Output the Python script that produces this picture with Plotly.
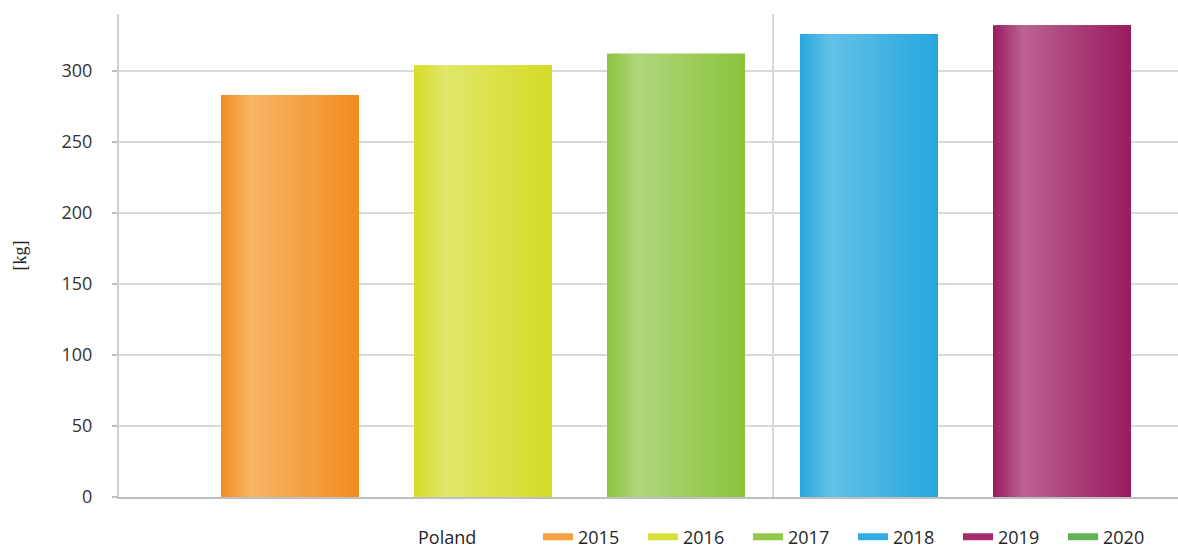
import plotly.graph_objects as go

# Annual values per year for Poland, in kg
country = "Poland"
years = ["2015", "2016", "2017", "2018", "2019", "2020"]
values = [283, 304, 312, 326, 332, None]

# Bar gradient end colours (edge shade, highlight shade) and legend swatch colours
edge_colors = ["#F18D1E", "#D4DC25", "#8BC33C", "#26A6DE", "#9A1A5E", "#5AAE4B"]
light_colors = ["#F7B567", "#E0E76B", "#AFD67B", "#63C1E8", "#BB6391", "#8CCB7E"]
legend_colors = ["#F5A043", "#D8E03A", "#93C84A", "#31ADE2", "#A52C6C", "#62B257"]

y_ticks = [0, 50, 100, 150, 200, 250, 300]

# ---- layout geometry (pixels) ----
W, H = 1178, 549
M_L, M_T, M_B, M_R = 119, 14, 52, 0
GROUP_CENTER_PX = 772.5      # centre of the single category
SLOT_PX = 193.0              # distance between neighbouring bars
UNIT_PX = SLOT_PX * len(years)
SLOT = 1.0 / len(years)
BAR_W = SLOT * 0.715
N_STRIPES = 46


def hex_to_rgb(h):
    h = h.lstrip("#")
    return tuple(int(h[i:i + 2], 16) for i in (0, 2, 4))


def mix(c1, c2, t):
    a, b = hex_to_rgb(c1), hex_to_rgb(c2)
    return "rgb(%d,%d,%d)" % tuple(round(a[i] + (b[i] - a[i]) * t) for i in range(3))


def shine(u):
    # horizontal highlight profile across a bar (0 = edge shade, 1 = brightest)
    if u < 0.22:
        return u / 0.22
    if u < 0.6:
        return 1.0 - 0.5 * (u - 0.22) / 0.38
    return 0.5 * (1.0 - (u - 0.6) / 0.4)


fig = go.Figure()

for i, (yr, v) in enumerate(zip(years, values)):
    if v is None:
        continue
    left = (i - (len(years) - 1) / 2) * SLOT - BAR_W / 2
    right = left + BAR_W
    step = BAR_W / N_STRIPES
    offsets, widths, cols = [], [], []
    for k in range(N_STRIPES):
        start = left + k * step
        offsets.append(start)
        widths.append(min(step * 2.5, right - start))
        cols.append(mix(edge_colors[i], light_colors[i], shine((k + 0.5) / N_STRIPES)))
    fig.add_trace(go.Bar(
        x=[country] * N_STRIPES,
        y=[v] * N_STRIPES,
        offset=offsets,
        width=widths,
        marker=dict(color=cols, line=dict(width=0)),
        showlegend=False,
        hoverinfo="skip",
        name=yr,
    ))

# legend swatches
for yr, c in zip(years, legend_colors):
    fig.add_trace(go.Scatter(
        x=[None], y=[None], mode="lines", name=yr,
        line=dict(color=c, width=7),
    ))

plot_w = W - M_L - M_R
plot_h = H - M_T - M_B
legend_y = (H - M_B - 537) / plot_h

fig.add_annotation(
    text=country, xref="paper", yref="paper",
    x=(416 - M_L) / plot_w, y=legend_y,
    xanchor="left", yanchor="middle", showarrow=False,
    font=dict(family="Open Sans", size=18, color="#262626"),
)

x_lo = (M_L - GROUP_CENTER_PX) / UNIT_PX
x_hi = (W - M_R - GROUP_CENTER_PX) / UNIT_PX

fig.update_layout(
    width=W, height=H,
    margin=dict(l=M_L, r=M_R, t=M_T, b=M_B, autoexpand=False),
    paper_bgcolor="white", plot_bgcolor="white",
    barmode="overlay",
    showlegend=True,
    legend=dict(
        orientation="h",
        x=(538 - M_L) / plot_w, xanchor="left",
        y=legend_y, yanchor="middle",
        entrywidth=60, entrywidthmode="pixels",
        itemwidth=30,
        tracegroupgap=0,
        font=dict(family="Open Sans", size=18, color="#262626"),
        bgcolor="rgba(0,0,0,0)",
        traceorder="normal",
    ),
    xaxis=dict(
        type="category",
        range=[x_lo, x_hi],
        showticklabels=False,
        ticks="",
        showgrid=True, gridcolor="#D9D9D9", gridwidth=1.5,
        showline=True, linecolor="#BFBFBF", linewidth=2,
        zeroline=False,
        fixedrange=True,
    ),
    yaxis=dict(
        range=[0, 340],
        tickvals=y_ticks,
        ticks="outside", ticklen=5, tickcolor="#BFBFBF", tickwidth=1.5,
        ticklabelstandoff=16,
        tickfont=dict(family="Open Sans", size=18, color="#333333"),
        showgrid=True, gridcolor="#D9D9D9", gridwidth=2,
        showline=True, linecolor="#D0D0D0", linewidth=2,
        zeroline=False,
        title=dict(text="[kg]", standoff=30,
                   font=dict(family="Liberation Serif", size=18, color="#262626")),
    ),
)

fig.write_html("out.html")
